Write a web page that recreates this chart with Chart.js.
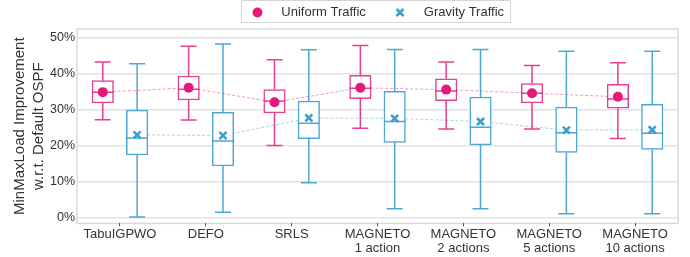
<!DOCTYPE html>
<html lang="en">
<head>
    <meta charset="UTF-8">
    <title>MinMaxLoad Improvement</title>
    <script src="https://cdn.jsdelivr.net/npm/chart.js"></script>
    <style>
        body { margin: 0; background: #fff; }
        .wrap { width: 690px; height: 257px; }
    </style>
</head>
<body>
    <div class="wrap"><canvas id="boxChart"></canvas></div>
    <script>
        const categories = [['TabuIGPWO'], ['DEFO'], ['SRLS'], ['MAGNETO', '1 action'], ['MAGNETO', '2 actions'], ['MAGNETO', '5 actions'], ['MAGNETO', '10 actions']];
        const yTicks = [0, 10, 20, 30, 40, 50];

        // Uniform Traffic
        const uniMin  = [27.2, 27.1, 20.0, 24.8, 24.6, 24.6, 22.0];
        const uniQ1   = [31.9, 32.7, 29.1, 33.1, 32.5, 31.9, 30.4];
        const uniMed  = [34.9, 35.7, 32.4, 36.0, 35.2, 34.6, 33.0];
        const uniQ3   = [38.1, 39.4, 35.6, 39.6, 38.6, 37.3, 37.1];
        const uniMax  = [43.3, 47.7, 43.9, 47.9, 43.3, 42.3, 43.1];
        const uniMean = [34.9, 36.1, 32.1, 36.1, 35.6, 34.6, 33.6];

        // Gravity Traffic
        const gravMin  = [0.1, 1.4, 9.6, 2.4, 2.4, 1.0, 1.0];
        const gravQ1   = [17.4, 14.3, 21.9, 20.9, 20.2, 18.1, 18.9];
        const gravMed  = [22.1, 21.3, 26.2, 26.7, 25.1, 23.6, 23.4];
        const gravQ3   = [29.9, 29.3, 32.4, 35.1, 33.5, 30.7, 31.5];
        const gravMax  = [42.8, 48.3, 46.7, 46.8, 46.8, 46.3, 46.3];
        const gravMean = [23.0, 22.8, 27.7, 27.6, 26.7, 24.3, 24.4];

        const pink = '#e31a7c';
        const pinkLine = 'rgba(227, 38, 130, 0.88)';
        const blue = '#3a9fcc';
        const blueLine = 'rgba(58, 159, 204, 0.9)';
        const font = 'Liberation Sans, Arial, sans-serif';

        const shift = 0.2;
        const boxPoints = (q1, q3, off) => q1.map((q, i) => ({ x: i + off, y: [q, q3[i]] }));
        const meanPoints = (arr, off) => arr.map((v, i) => ({ x: i + off, y: v }));

        // whiskers, caps and medians for each box dataset
        const whiskers = {
            0: { min: uniMin, med: uniMed, max: uniMax, color: pinkLine },
            1: { min: gravMin, med: gravMed, max: gravMax, color: blueLine }
        };

        const boxPlugin = {
            id: 'boxPlugin',
            beforeDraw(chart) {
                const a = chart.chartArea, ctx = chart.ctx;
                ctx.save();
                ctx.strokeStyle = '#d9d9d9';
                ctx.lineWidth = 1.5;
                ctx.strokeRect(a.left, a.top, a.right - a.left, a.bottom - a.top);
                ctx.restore();
            },
            afterDatasetDraw(chart, args) {
                const w = whiskers[args.index];
                if (!w) return;
                const y = chart.scales.y, ctx = chart.ctx;
                ctx.save();
                ctx.strokeStyle = w.color;
                ctx.lineWidth = 1.5;
                args.meta.data.forEach((bar, i) => {
                    const raw = chart.data.datasets[args.index].data[i].y;
                    const x = bar.x, half = bar.width / 2, cap = 8;
                    ctx.beginPath();
                    ctx.moveTo(x, y.getPixelForValue(raw[1]));
                    ctx.lineTo(x, y.getPixelForValue(w.max[i]));
                    ctx.moveTo(x, y.getPixelForValue(raw[0]));
                    ctx.lineTo(x, y.getPixelForValue(w.min[i]));
                    ctx.moveTo(x - cap, y.getPixelForValue(w.max[i]));
                    ctx.lineTo(x + cap, y.getPixelForValue(w.max[i]));
                    ctx.moveTo(x - cap, y.getPixelForValue(w.min[i]));
                    ctx.lineTo(x + cap, y.getPixelForValue(w.min[i]));
                    ctx.moveTo(x - half, y.getPixelForValue(w.med[i]));
                    ctx.lineTo(x + half, y.getPixelForValue(w.med[i]));
                    ctx.stroke();
                });
                ctx.restore();
            },
            afterDraw(chart) {
                const boxes = chart.legend.legendHitBoxes;
                if (!boxes || !boxes.length) return;
                const ctx = chart.ctx;
                const last = boxes[boxes.length - 1];
                const l = boxes[0].left - 10;
                const r = last.left + last.width + 6;
                ctx.save();
                ctx.strokeStyle = '#d4d4d4';
                ctx.lineWidth = 1;
                ctx.strokeRect(Math.round(l) + 0.5, 0.5, Math.round(r - l), 22);
                ctx.restore();
            }
        };

        const legendNames = ['Uniform Traffic', 'Gravity Traffic'];

        new Chart(document.getElementById('boxChart'), {
            type: 'bar',
            data: {
                labels: categories,
                datasets: [
                    {
                        label: 'Uniform box',
                        xAxisID: 'x2',
                        data: boxPoints(uniQ1, uniQ3, -shift),
                        backgroundColor: '#ffffff',
                        borderColor: pinkLine,
                        borderWidth: 1.5,
                        borderSkipped: false,
                        barThickness: 21.5,
                        grouped: false,
                        order: 2
                    },
                    {
                        label: 'Gravity box',
                        xAxisID: 'x2',
                        data: boxPoints(gravQ1, gravQ3, shift),
                        backgroundColor: '#ffffff',
                        borderColor: blueLine,
                        borderWidth: 1.5,
                        borderSkipped: false,
                        barThickness: 21.5,
                        grouped: false,
                        order: 2
                    },
                    {
                        type: 'line',
                        label: 'Uniform trend',
                        xAxisID: 'x2',
                        data: meanPoints(uniMean, -shift),
                        borderColor: 'rgba(227, 26, 124, 0.45)',
                        borderWidth: 1,
                        borderDash: [3, 2],
                        pointRadius: 0,
                        fill: false,
                        order: 3
                    },
                    {
                        type: 'line',
                        label: 'Gravity trend',
                        xAxisID: 'x2',
                        data: meanPoints(gravMean, shift),
                        borderColor: 'rgba(58, 159, 204, 0.45)',
                        borderWidth: 1,
                        borderDash: [3, 2],
                        pointRadius: 0,
                        fill: false,
                        order: 3
                    },
                    {
                        type: 'line',
                        label: 'Uniform Traffic',
                        xAxisID: 'x2',
                        data: meanPoints(uniMean, -shift),
                        showLine: false,
                        pointStyle: 'circle',
                        pointRadius: 5,
                        backgroundColor: pink,
                        borderColor: pink,
                        borderWidth: 0,
                        order: 1
                    },
                    {
                        type: 'line',
                        label: 'Gravity Traffic',
                        xAxisID: 'x2',
                        data: meanPoints(gravMean, shift),
                        showLine: false,
                        pointStyle: 'crossRot',
                        pointRadius: 5,
                        backgroundColor: blue,
                        borderColor: blue,
                        borderWidth: 2.5,
                        order: 1
                    }
                ]
            },
            options: {
                responsive: true,
                maintainAspectRatio: false,
                animation: false,
                layout: { padding: { top: 0, right: 12, left: 10.5, bottom: 0 } },
                plugins: {
                    tooltip: { enabled: false },
                    legend: {
                        position: 'top',
                        fullSize: false,
                        labels: {
                            usePointStyle: true,
                            boxHeight: 7,
                            padding: 6,
                            color: '#333',
                            font: { family: font, size: 13 },
                            generateLabels(chart) {
                                const items = Chart.defaults.plugins.legend.labels.generateLabels(chart)
                                    .filter(it => legendNames.includes(it.text));
                                items.forEach(it => {
                                    it.text = it.text === 'Uniform Traffic' ? '   Uniform Traffic      ' : '   Gravity Traffic';
                                    it.lineDash = [];
                                });
                                return items;
                            }
                        }
                    }
                },
                scales: {
                    x: {
                        grid: { display: true, drawOnChartArea: false, drawTicks: true, tickLength: 3, color: '#555', offset: false },
                        border: { display: false },
                        offset: true,
                        ticks: {
                            color: '#333',
                            padding: 1,
                            maxRotation: 0,
                            autoSkip: false,
                            font: { family: font, size: 13, lineHeight: 1.1 }
                        }
                    },
                    x2: {
                        type: 'linear',
                        display: false,
                        offset: false,
                        min: -0.5,
                        max: 6.5
                    },
                    y: {
                        min: -1.7,
                        max: 52.5,
                        grid: { color: '#e3e3e3', lineWidth: 1.5, drawTicks: false },
                        border: { display: false },
                        afterBuildTicks(scale) {
                            scale.ticks = yTicks.map(v => ({ value: v }));
                        },
                        ticks: {
                            color: '#333',
                            padding: 2,
                            font: { family: font, size: 12.5 },
                            callback: v => v + '%'
                        },
                        title: {
                            display: true,
                            text: ['MinMaxLoad Improvement', 'w.r.t. Default OSPF'],
                            color: '#333',
                            padding: { top: 0, bottom: 0 },
                            font: { family: font, size: 15, lineHeight: 1.25 }
                        }
                    }
                }
            },
            plugins: [boxPlugin]
        });
    </script>
</body>
</html>
